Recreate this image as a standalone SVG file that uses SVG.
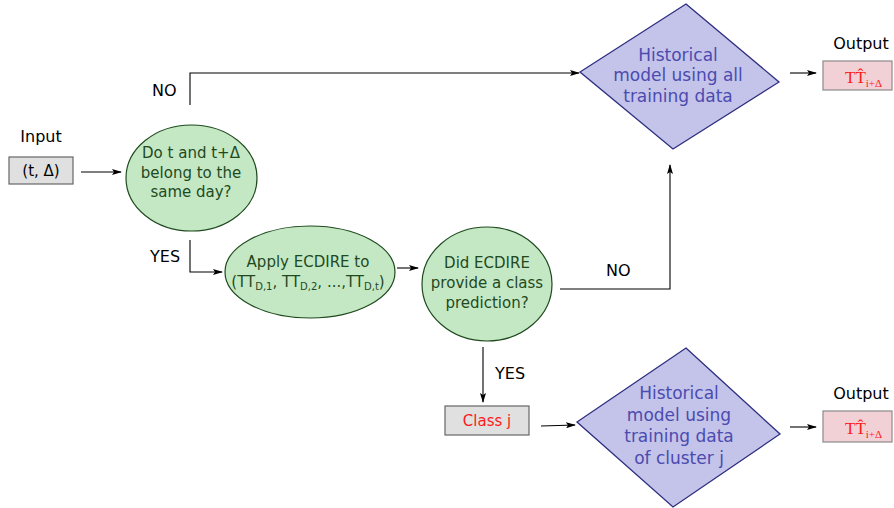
<svg xmlns="http://www.w3.org/2000/svg" width="894" height="508" viewBox="0 0 894 508">
  <defs>
    <marker id="arrow" viewBox="0 0 10 6" refX="9" refY="3" markerWidth="10" markerHeight="6" markerUnits="userSpaceOnUse" orient="auto">
      <path d="M0,0 L10,3 L0,6 L2,3 z" fill="#000"/>
    </marker>
    <style>
      .lbl { font-family: "DejaVu Sans", sans-serif; font-size: 16px; fill: #000; }
      .gtxt { font-family: "DejaVu Sans", sans-serif; font-size: 15px; fill: #1f4a1f; text-anchor: middle; }
      .dtxt { font-family: "DejaVu Sans", sans-serif; font-size: 17px; fill: #4b4bb0; text-anchor: middle; }
      .green { fill: #c5e8c4; stroke: #1e4a1e; stroke-width: 1.2; }
      .diamond { fill: #c4c3e9; stroke: #2e2e80; stroke-width: 1.3; }
      .box { fill: #e0e0e0; stroke: #666; stroke-width: 1.2; }
      .outbox { fill: #f2d1d6; stroke: #8a8a8a; stroke-width: 1.2; }
      .red { fill: #ff1a1a; }
      .tt { font-family: "Liberation Serif", serif; font-size: 17px; fill: #ff1a1a; }
      .sub { font-size: 11px; }
      .edge { fill: none; stroke: #000; stroke-width: 1.1; marker-end: url(#arrow); }
    </style>
  </defs>

  <rect width="894" height="508" fill="#fff"/>

  <!-- connectors -->
  <g id="connectors">
    <line class="edge" x1="81" y1="172" x2="121" y2="172"/>
    <polyline class="edge" points="190,105 190,73 579,73"/>
    <polyline class="edge" points="190,240 190,272 222,272"/>
    <line class="edge" x1="397" y1="268" x2="418" y2="268"/>
    <polyline class="edge" points="560,289 670,289 670,165"/>
    <line class="edge" x1="483" y1="347" x2="483" y2="402"/>
    <line class="edge" x1="541" y1="426" x2="575" y2="425"/>
    <line class="edge" x1="790" y1="73" x2="816" y2="73"/>
    <line class="edge" x1="790" y1="427" x2="816" y2="427"/>
    <text class="lbl" x="152" y="96">NO</text>
    <text class="lbl" x="150" y="262">YES</text>
    <text class="lbl" x="606" y="276">NO</text>
    <text class="lbl" x="495" y="379">YES</text>
  </g>

  <!-- input -->
  <g id="input">
    <text class="lbl" x="41" y="142" text-anchor="middle">Input</text>
    <rect class="box" x="9" y="157" width="64" height="27"/>
    <text x="41" y="176" text-anchor="middle" style="font-family:'DejaVu Sans',sans-serif;font-size:15px;fill:#000">(t, Δ)</text>
  </g>

  <!-- same-day test -->
  <g id="same-day">
    <ellipse class="green" cx="191.5" cy="178" rx="65.5" ry="53"/>
    <text class="gtxt" x="191" y="158">Do t and t+Δ</text>
    <text class="gtxt" x="191" y="178">belong to the</text>
    <text class="gtxt" x="191" y="197">same day?</text>
  </g>

  <!-- ECDIRE application -->
  <g id="apply-ecdire">
    <ellipse class="green" cx="310" cy="272" rx="85" ry="46"/>
    <text class="gtxt" x="308" y="267">Apply ECDIRE to</text>
    <text class="gtxt" x="308" y="287">(TT<tspan font-size="10" dy="3">D,1</tspan><tspan dy="-3">, TT</tspan><tspan font-size="10" dy="3">D,2</tspan><tspan dy="-3">, ...,TT</tspan><tspan font-size="10" dy="3">D,t</tspan><tspan dy="-3">)</tspan></text>
  </g>

  <!-- class prediction test -->
  <g id="class-test">
    <ellipse class="green" cx="487" cy="284" rx="65" ry="57"/>
    <text class="gtxt" x="487" y="268">Did ECDIRE</text>
    <text class="gtxt" x="487" y="288">provide a class</text>
    <text class="gtxt" x="487" y="308">prediction?</text>
  </g>

  <!-- historical model, all data -->
  <g id="model-all">
    <polygon class="diamond" points="686,4 779,82 673,149 580,72"/>
    <text class="dtxt" x="678" y="61">Historical</text>
    <text class="dtxt" x="678" y="81">model using all</text>
    <text class="dtxt" x="678" y="102">training data</text>
  </g>

  <!-- class box -->
  <g id="class-j">
    <rect class="box" x="445" y="406" width="84" height="29"/>
    <text x="487" y="426" text-anchor="middle" style="font-family:'DejaVu Sans',sans-serif;font-size:15px" class="red">Class j</text>
  </g>

  <!-- historical model, cluster data -->
  <g id="model-cluster">
    <polygon class="diamond" points="686,348 780,434 673,507 577,422"/>
    <text class="dtxt" x="679" y="399">Historical</text>
    <text class="dtxt" x="679" y="421">model using</text>
    <text class="dtxt" x="679" y="442">training data</text>
    <text class="dtxt" x="679" y="464">of cluster j</text>
  </g>

  <!-- outputs: TT with a combining hat, subscript i+Δ -->
  <g id="output-top">
    <text class="lbl" x="861" y="49" text-anchor="middle">Output</text>
    <rect class="outbox" x="823" y="61" width="69" height="29"/>
    <text class="tt" x="845" y="83">TT̂<tspan class="sub" dy="4">i+Δ</tspan></text>
  </g>
  <g id="output-bottom">
    <text class="lbl" x="861" y="399" text-anchor="middle">Output</text>
    <rect class="outbox" x="823" y="411" width="69" height="31"/>
    <text class="tt" x="845" y="434">TT̂<tspan class="sub" dy="4">i+Δ</tspan></text>
  </g>
</svg>
